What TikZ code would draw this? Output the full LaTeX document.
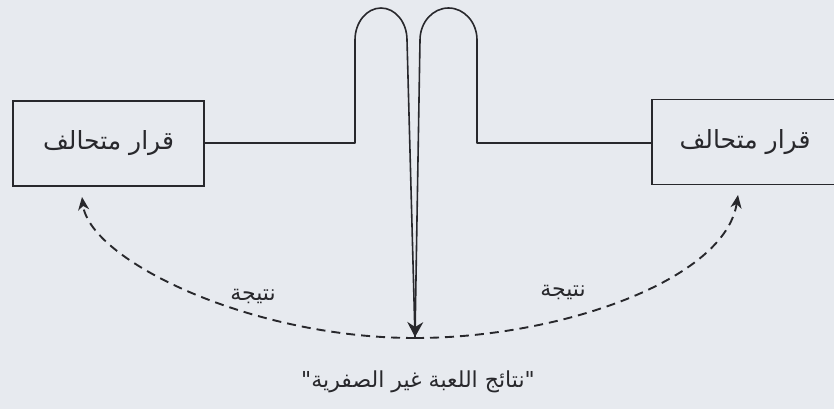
\documentclass[tikz,border=0pt]{standalone}
\usepackage{fontspec}
\usetikzlibrary{arrows.meta}
\TeXXeTstate=1
\newfontfamily\arabicfont[Script=Arabic]{DejaVu Sans}
\definecolor{paper}{RGB}{231,234,239}
\definecolor{ink}{RGB}{40,40,44}
\tikzset{
  box/.style={draw=ink, line width=1.5pt, minimum height=85pt, inner sep=0pt, font=\arabicfont\fontsize{25}{28}\selectfont, text=ink},
  wire/.style={draw=ink, line width=1.6pt},
  result/.style={draw=ink, line width=1.9pt, dash pattern=on 9pt off 6pt, -{Stealth[length=13pt,width=11pt,inset=4pt]}},
  lbl/.style={font=\arabicfont\fontsize{22}{24}\selectfont, text=ink},
}
\begin{document}
\begin{tikzpicture}[x=1pt,y=-1pt]
\fill[paper] (0,0) rectangle (834,409);
\useasboundingbox (0,0) rectangle (834,409);
\clip (0,0) rectangle (834,409);
\node[box, minimum width=191pt] (L) at (108.5,143.5) {\beginR قرار متحالف\endR};
\node[box, minimum width=186pt] (R) at (745,142) {\beginR قرار متحالف\endR};
\coordinate (tip) at (415,337);
\coordinate (l1) at (355,143);
\coordinate (l2) at (355,40);
\coordinate (r1) at (477,143);
\coordinate (r2) at (477,40);
\coordinate (bot) at (415,338);
\coordinate (la) at (82,197);
\coordinate (ra) at (738,195);
\draw[wire, line join=round] (L.east |- l1) -- (l1) -- (l2) arc[start angle=180, end angle=360, x radius=26, y radius=32] -- (tip);
\draw[wire, line join=round, -{Stealth[length=15pt,width=16pt,inset=5pt]}] (R.west |- r1) -- (r1) -- (r2) arc[start angle=0, end angle=-180, x radius=28.5, y radius=32] -- (tip);
\draw[result] (bot) .. controls (250,338) and (90,260) .. (la);
\draw[result] (bot) .. controls (560,338) and (725,280) .. (ra);
\node[lbl] (n1) at (253,296) {\beginR نتيجة\endR};
\node[lbl] (n2) at (563,292) {\beginR نتيجة\endR};
\node[lbl, font=\arabicfont\fontsize{22}{24}\selectfont] (title) at (418,382) {\beginR "نتائج اللعبة غير الصفرية"\endR};
\end{tikzpicture}
\end{document}
